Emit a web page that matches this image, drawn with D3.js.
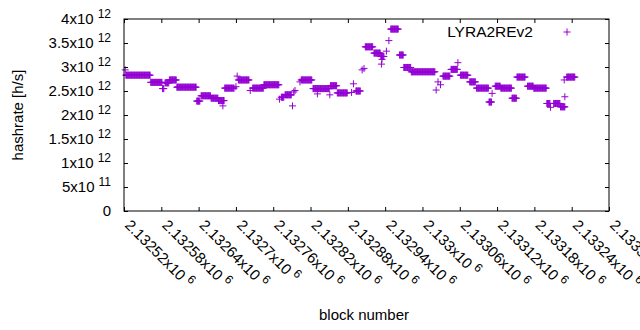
<!DOCTYPE html>
<html>
<head>
<meta charset="utf-8">
<script src="https://cdn.jsdelivr.net/npm/d3@7"></script>
<style>
  body { margin: 0; background: #fff; }
  svg { display: block; font-family: "Liberation Sans", Arial, sans-serif; }
</style>
</head>
<body>
<div class="hashrate-chart"></div>
<script>
// runs of blocks that share one hashrate value (block start, block end, value in 10^12 h/s)
const runStart = [2132522, 2132523, 2132563, 2132582, 2132586, 2132593, 2132605, 2132637, 2132644, 2132660,
	2132672, 2132679, 2132682, 2132700, 2132702, 2132704, 2132723, 2132727, 2132745, 2132770,
	2132773, 2132779, 2132791, 2132793, 2132795, 2132803, 2132805, 2132824, 2132831, 2132851,
	2132852, 2132863, 2132886, 2132889, 2132893, 2132903, 2132906, 2132908, 2132922, 2132933,
	2132934, 2132935, 2132942, 2132946, 2132949, 2132963, 2132970, 2132982, 2133022, 2133025,
	2133029, 2133033, 2133046, 2133057, 2133061, 2133076, 2133087, 2133107, 2133112, 2133117,
	2133126, 2133144, 2133152, 2133169, 2133179, 2133200, 2133206, 2133211, 2133222, 2133228,
	2133229, 2133232];
const runEnd = [2132522, 2132562, 2132581, 2132584, 2132592, 2132604, 2132636, 2132642, 2132659, 2132671,
	2132681, 2132679, 2132697, 2132700, 2132702, 2132721, 2132723, 2132744, 2132769, 2132770,
	2132777, 2132789, 2132791, 2132793, 2132795, 2132803, 2132822, 2132850, 2132831, 2132851,
	2132862, 2132879, 2132886, 2132889, 2132900, 2132903, 2132906, 2132920, 2132932, 2132938,
	2132934, 2132935, 2132942, 2132946, 2132961, 2132969, 2132981, 2133020, 2133022, 2133025,
	2133029, 2133044, 2133056, 2133057, 2133073, 2133085, 2133106, 2133111, 2133112, 2133125,
	2133143, 2133151, 2133165, 2133178, 2133199, 2133205, 2133206, 2133221, 2133229, 2133228,
	2133229, 2133245];
const runValue = [2.94, 2.83, 2.68, 2.55, 2.67, 2.73, 2.58, 2.29, 2.40, 2.35,
	2.30, 2.19, 2.56, 2.59, 2.81, 2.73, 2.51, 2.56, 2.63, 2.33,
	2.37, 2.42, 2.19, 2.48, 2.51, 2.69, 2.73, 2.55, 2.44, 2.42,
	2.61, 2.46, 2.47, 2.65, 2.50, 2.94, 2.97, 3.42, 3.29, 3.22,
	3.06, 3.16, 3.33, 3.55, 3.79, 3.25, 2.99, 2.90, 2.52, 2.69,
	2.63, 2.81, 2.95, 3.09, 2.83, 2.69, 2.56, 2.27, 2.45, 2.60,
	2.56, 2.35, 2.79, 2.60, 2.56, 2.24, 2.16, 2.24, 2.17, 2.73,
	2.38, 2.79];

const xTickValues = [2132520, 2132580, 2132640, 2132700, 2132760, 2132820, 2132880,
	2132940, 2133000, 2133060, 2133120, 2133180, 2133240, 2133300];
const xTickLabels = ["2.13252", "2.13258", "2.13264", "2.1327", "2.13276", "2.13282", "2.13288",
	"2.13294", "2.133", "2.13306", "2.13312", "2.13318", "2.13324", "2.1333"];
const yTickValues = [0, 0.5, 1, 1.5, 2, 2.5, 3, 3.5, 4];
const yTickLabels = [["0", ""], ["5x10", "11"], ["1x10", "12"], ["1.5x10", "12"], ["2x10", "12"],
	["2.5x10", "12"], ["3x10", "12"], ["3.5x10", "12"], ["4x10", "12"]];

const seriesName = "LYRA2REv2";
const color = "#9400d3";

// one point per block inside each run
const points = [];
runStart.forEach((s, i) => {
	for (let b = s; b <= runEnd[i]; b++) points.push({ block: b, value: runValue[i] });
});

const margin = { top: 19, right: 31, bottom: 119, left: 124 },
	width = 640 - margin.left - margin.right,
	height = 330 - margin.top - margin.bottom;

const x = d3.scaleLinear().domain([2132520, 2133300]).range([0, width]);
const y = d3.scaleLinear().domain([0, 4]).range([height, 0]);

const svg = d3.select(".hashrate-chart")
	.append("svg")
	.attr("width", 640)
	.attr("height", 330);

const g = svg.append("g")
	.attr("transform", "translate(" + margin.left + "," + margin.top + ")");

const plus = "M-3.5,0H3.5M0,-3.5V3.5";

// data points
g.append("g")
	.selectAll("path")
	.data(points)
	.enter()
	.append("path")
	.attr("d", plus)
	.attr("transform", (d) => "translate(" + x(d.block) + "," + y(d.value) + ")")
	.attr("fill", "none")
	.attr("stroke", color)
	.attr("stroke-width", 1);

// ticks on all four sides, pointing inward
const tickStyle = (sel) => {
	sel.select(".domain").remove();
	sel.selectAll(".tick line").attr("stroke", "#000");
	sel.selectAll(".tick text").remove();
};
g.append("g").attr("transform", "translate(0," + height + ")")
	.call(d3.axisBottom(x).tickValues(xTickValues).tickSizeInner(-4)).call(tickStyle);
g.append("g")
	.call(d3.axisTop(x).tickValues(xTickValues.slice(0, -1)).tickSizeInner(-4)).call(tickStyle);
g.append("g")
	.call(d3.axisLeft(y).tickValues(yTickValues).tickSizeInner(-4)).call(tickStyle);
g.append("g").attr("transform", "translate(" + width + ",0)")
	.call(d3.axisRight(y).tickValues(yTickValues).tickSizeInner(-4)).call(tickStyle);

g.append("rect")
	.attr("x", 0).attr("y", 0)
	.attr("width", width).attr("height", height)
	.attr("fill", "none")
	.attr("stroke", "#000")
	.attr("stroke-width", 1);

// y tick labels
const yl = g.append("g").style("font-size", "15px");
yTickValues.forEach((v, i) => {
	const t = yl.append("text")
		.attr("x", -13)
		.attr("y", y(v) + 5)
		.attr("text-anchor", "end")
		.text(yTickLabels[i][0]);
	if (yTickLabels[i][1]) {
		t.append("tspan").attr("dx", 4).attr("dy", -6).style("font-size", "12px").text(yTickLabels[i][1]);
	}
});

// x tick labels, rotated
const xl = g.append("g").style("font-size", "15px");
xTickValues.forEach((v, i) => {
	const t = xl.append("text")
		.attr("transform", "translate(" + x(v) + "," + (height + 15) + ") rotate(45)")
		.attr("text-anchor", "start")
		.text(xTickLabels[i] + "x10");
	t.append("tspan").attr("dx", 4).attr("dy", -6).style("font-size", "12px").text("6");
});

// axis titles
svg.append("text")
	.attr("transform", "translate(23," + (margin.top + height / 2) + ") rotate(-90)")
	.attr("text-anchor", "middle")
	.style("font-size", "15px")
	.text("hashrate [h/s]");
svg.append("text")
	.attr("x", 364)
	.attr("y", 320)
	.attr("text-anchor", "middle")
	.style("font-size", "15px")
	.text("block number");

// legend
svg.append("text")
	.attr("x", 533)
	.attr("y", 37)
	.attr("text-anchor", "end")
	.style("font-size", "15.5px")
	.text(seriesName);
svg.append("path")
	.attr("d", plus)
	.attr("transform", "translate(567,32)")
	.attr("fill", "none")
	.attr("stroke", color)
	.attr("stroke-width", 1);
</script>
</body>
</html>
